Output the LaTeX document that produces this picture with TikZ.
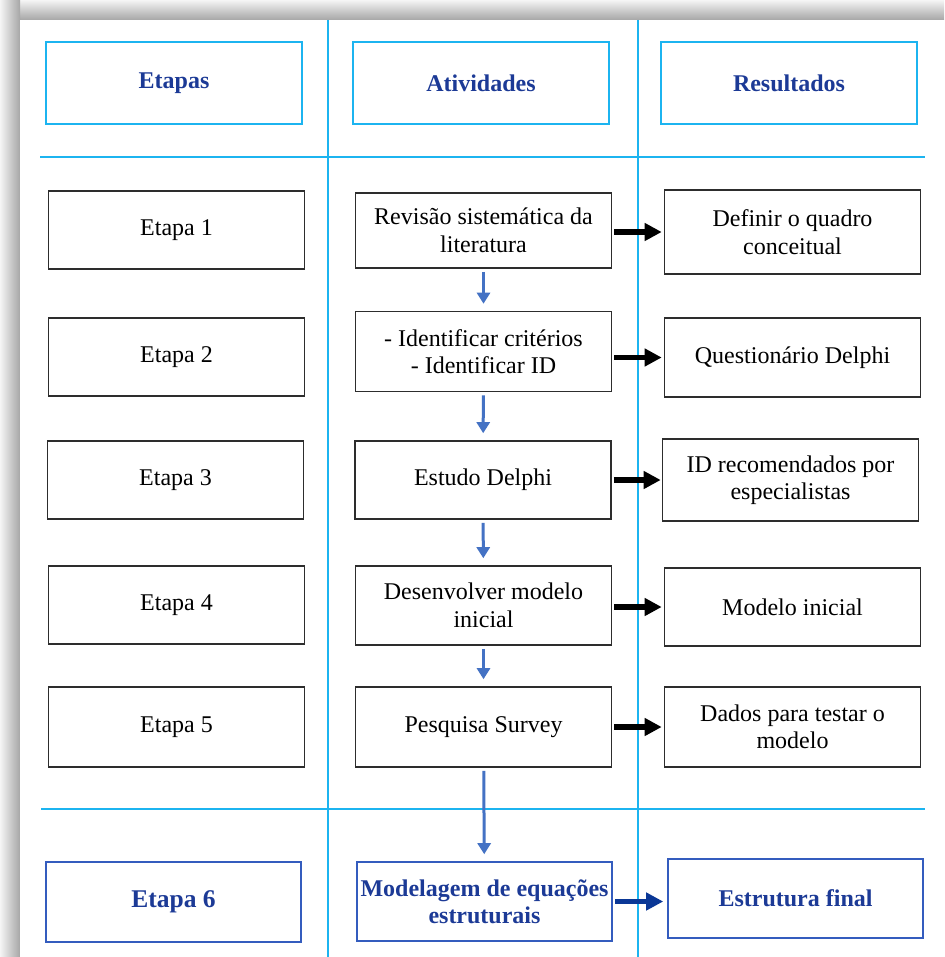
\documentclass[tikz,border=0pt]{standalone}
\usepackage{fontspec}
\setmainfont{Liberation Serif}
\usetikzlibrary{arrows.meta}
\definecolor{gridcyan}{RGB}{28,180,240}
\definecolor{headblue}{RGB}{28,58,150}
\definecolor{finalblue}{RGB}{52,92,190}
\definecolor{flowblue}{RGB}{68,114,196}
\definecolor{darkarrow}{RGB}{10,55,150}
\definecolor{boxgray}{RGB}{45,45,45}
\begin{document}
\begin{tikzpicture}[x=1pt,y=-1pt,
  basebox/.style={rectangle, inner sep=0pt, align=center, line width=1.6pt,
    font=\fontsize{24}{27.5}\selectfont},
  headbox/.style={basebox, draw=gridcyan, text=headblue, minimum width=256pt,
    minimum height=82pt, font=\fontsize{24}{27}\selectfont\bfseries},
  stagebox/.style={basebox, draw=boxgray, minimum width=256pt},
  finalbox/.style={basebox, draw=finalblue, text=headblue, minimum width=255pt,
    minimum height=79pt, font=\fontsize{24}{27}\selectfont\bfseries},
  gridline/.style={draw=gridcyan, line width=1.5pt},
  resarrow/.style={line width=5.5pt, -{Triangle[length=17pt,width=17pt]}},
  flowarrow/.style={draw=flowblue, line width=3pt,
    -{Triangle[length=11pt,width=13pt]}, shorten <=3pt, shorten >=7pt}]

% page area and drop shadow
\useasboundingbox (0,0) rectangle (944,957);
\shade[top color=gray!8, bottom color=gray!70] (0,0) rectangle (944,20);
\shade[left color=gray!8, right color=gray!70] (0,0) rectangle (20,957);
\fill[white] (20,20) rectangle (944,957);

% column and row separators
\draw[gridline] (328,20) -- (328,957);
\draw[gridline] (638,20) -- (638,957);
\draw[gridline] (40,157) -- (925,157);
\draw[gridline] (41,809) -- (925,809);

% header row
\node[headbox] (hEtapas) at (174,83) {Etapas};
\node[headbox] (hAtiv) at (481,83) {Atividades};
\node[headbox] (hRes) at (789,83) {Resultados};

% stages column
\node[stagebox, minimum height=78pt] (e1) at (176.5,230) {Etapa 1};
\node[stagebox, minimum height=78pt] (e2) at (176.5,357) {Etapa 2};
\node[stagebox, minimum height=78pt] (e3) at (175.5,480) {Etapa 3};
\node[stagebox, minimum height=78pt] (e4) at (176.5,605) {Etapa 4};
\node[stagebox, minimum height=80pt] (e5) at (176.5,727) {Etapa 5};
\node[finalbox, minimum height=80pt, font=\fontsize{25.5}{28}\selectfont\bfseries] (e6) at (173.5,902) {Etapa 6};

% activities column
\node[stagebox, minimum height=75pt] (a1) at (483.5,230.5) {Revisão sistemática da\\literatura};
\node[stagebox, minimum height=80pt] (a2) at (483.5,351.5) {- Identificar critérios\\- Identificar ID};
\node[stagebox, minimum height=78pt] (a3) at (483,480) {Estudo Delphi};
\node[stagebox, minimum height=79pt] (a4) at (483.5,605.5) {Desenvolver modelo\\inicial};
\node[stagebox, minimum height=80pt] (a5) at (483.5,727) {Pesquisa Survey};
\node[finalbox] (a6) at (484.5,901.5) {Modelagem de equações\\estruturais};

% results column
\node[stagebox, minimum height=84pt] (r1) at (792.5,232) {Definir o quadro\\conceitual};
\node[stagebox, minimum height=79pt] (r2) at (792.5,357.5) {Questionário Delphi};
\node[stagebox, minimum height=82pt] (r3) at (790.5,480) {ID recomendados por\\especialistas};
\node[stagebox, minimum height=78pt] (r4) at (792.5,607) {Modelo inicial};
\node[stagebox, minimum height=80pt] (r5) at (792.5,727) {Dados para testar o\\modelo};
\node[finalbox] (r6) at (795.5,898.5) {Estrutura final};

% activity flow
\draw[flowarrow] (a1) -- (a2);
\draw[flowarrow] (a2) -- (a3);
\draw[flowarrow] (a3) -- (a4);
\draw[flowarrow] (a4) -- (a5);
\draw[flowarrow] (a5) -- (a6);

% activity to result
\draw[resarrow] ([xshift=2pt]a1.east |- r1.west) -- ([xshift=-2pt]r1.west);
\draw[resarrow] ([xshift=2pt]a2.east |- r2.west) -- ([xshift=-2pt]r2.west);
\draw[resarrow] ([xshift=2pt]a3.east |- r3.west) -- ([xshift=-1pt]r3.west);
\draw[resarrow] ([xshift=2pt]a4.east |- r4.west) -- ([xshift=-2pt]r4.west);
\draw[resarrow] ([xshift=2pt]a5.east |- r5.west) -- ([xshift=-2pt]r5.west);
\draw[resarrow, draw=darkarrow, fill=darkarrow] ([xshift=2pt]a6.east) -- ([xshift=-4pt]a6.east -| r6.west);
\end{tikzpicture}
\end{document}
